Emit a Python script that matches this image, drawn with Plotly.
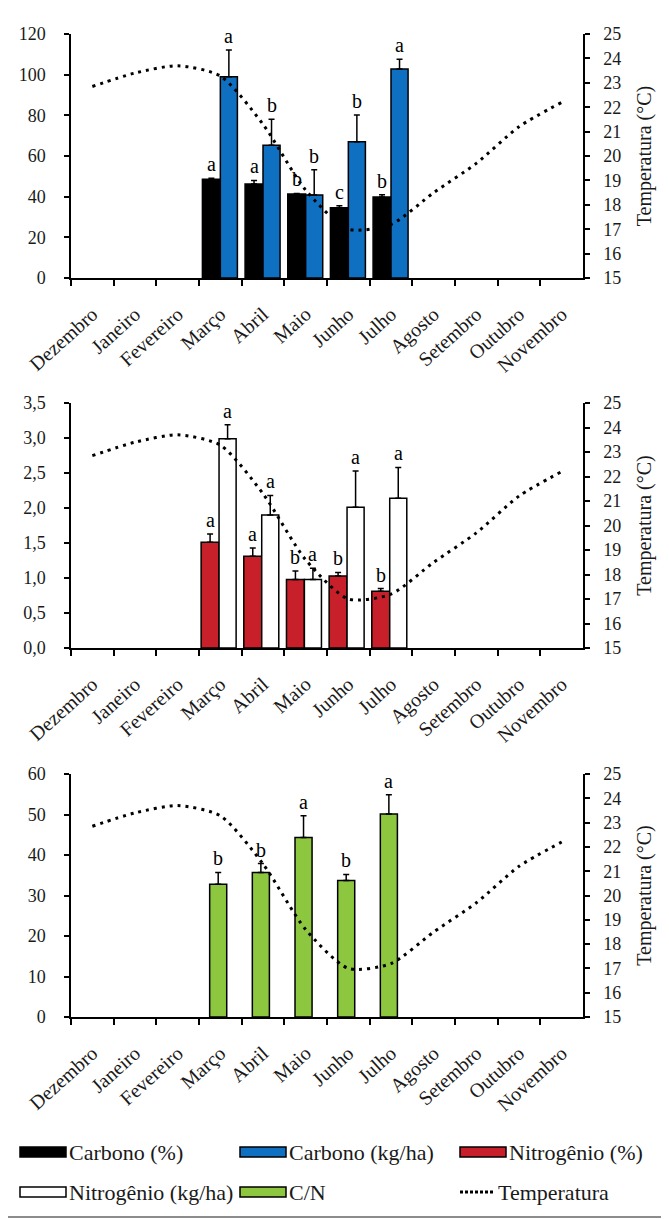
import plotly.graph_objects as go

# The page body adds an 8px margin; the figure is sized to fit the window after it.
OFF = 8
W, H = 669 - OFF, 1219 - OFF
FONT = "Times New Roman"

months = ["Dezembro", "Janeiro", "Fevereiro", "Março", "Abril", "Maio",
          "Junho", "Julho", "Agosto", "Setembro", "Outubro", "Novembro"]
temperatura = [22.85, 23.4, 23.7, 23.28, 21.3, 18.6, 17.0, 17.2, 18.5, 19.7, 21.2, 22.2]

bar_months = ["Março", "Abril", "Maio", "Junho", "Julho"]

carbono_pct = [48.6, 46.2, 41.3, 34.5, 39.8]
carbono_pct_err = [0.5, 1.8, 0.3, 1.0, 1.1]
carbono_pct_let = ["a", "a", "b", "c", "b"]

carbono_kg = [99.0, 65.3, 40.8, 67.0, 102.8]
carbono_kg_err = [13.1, 12.8, 12.4, 13.2, 4.8]
carbono_kg_let = ["a", "b", "b", "b", "a"]

nitro_pct = [1.51, 1.31, 0.98, 1.03, 0.81]
nitro_pct_err = [0.12, 0.12, 0.12, 0.05, 0.04]
nitro_pct_let = ["a", "a", "b", "b", "b"]

nitro_kg = [2.99, 1.90, 0.98, 2.01, 2.14]
nitro_kg_err = [0.20, 0.28, 0.16, 0.52, 0.44]
nitro_kg_let = ["a", "a", "a", "a", "a"]

cn = [32.8, 35.7, 44.3, 33.7, 50.1]
cn_err = [2.9, 2.2, 5.4, 1.5, 4.8]
cn_let = ["b", "b", "a", "b", "a"]

C_BLACK = "#000000"
C_BLUE = "#0F6FC0"
C_RED = "#C8202A"
C_WHITE = "#FFFFFF"
C_GREEN = "#8DC63F"

# plotting areas in window pixels (top, bottom)
panels = [(34, 278), (403, 648), (774, 1017)]
X0, X1 = 71, 583

fig = go.Figure()


def fy(px):
    return 1 - (px - OFF) / H


def fx(px):
    return (px - OFF) / W


def add_bar(k, vals, errs, color, offset, width):
    xa = "x" if k == 0 else f"x{k + 1}"
    ya = f"y{2 * k + 1}" if k else "y"
    fig.add_trace(go.Bar(
        x=bar_months, y=vals, xaxis=xa, yaxis=ya,
        marker=dict(color=color, line=dict(color="black", width=1.5)),
        offset=offset, width=width, showlegend=False,
        error_y=dict(type="data", array=errs, arrayminus=[0] * len(errs),
                     symmetric=False, color="black", thickness=1.5, width=3),
    ))


def add_letters(k, vals, errs, letters, dx):
    xa = "x" if k == 0 else f"x{k + 1}"
    ya = f"y{2 * k + 1}" if k else "y"
    for m, v, e, t in zip(bar_months, vals, errs, letters):
        i = months.index(m)
        fig.add_annotation(x=i + dx, y=v + e, xref=xa, yref=ya, text=t,
                           showarrow=False, yanchor="bottom", yshift=1,
                           font=dict(family=FONT, size=20, color="black"))


def add_temp(k):
    xa = "x" if k == 0 else f"x{k + 1}"
    ya = f"y{2 * k + 2}"
    fig.add_trace(go.Scatter(
        x=months, y=temperatura, xaxis=xa, yaxis=ya, mode="lines",
        line=dict(color="black", width=3, dash="3px,5px", shape="spline", smoothing=0.7),
        showlegend=False, hoverinfo="skip"))


add_bar(0, carbono_pct, carbono_pct_err, C_BLACK, -0.42, 0.42)
add_bar(0, carbono_kg, carbono_kg_err, C_BLUE, 0.0, 0.40)
add_temp(0)
add_letters(0, carbono_pct, carbono_pct_err, carbono_pct_let, -0.21)
add_letters(0, carbono_kg, carbono_kg_err, carbono_kg_let, 0.20)

add_bar(1, nitro_pct, nitro_pct_err, C_RED, -0.45, 0.42)
add_bar(1, nitro_kg, nitro_kg_err, C_WHITE, -0.03, 0.40)
add_temp(1)
add_letters(1, nitro_pct, nitro_pct_err, nitro_pct_let, -0.24)
add_letters(1, nitro_kg, nitro_kg_err, nitro_kg_let, 0.17)

add_bar(2, cn, cn_err, C_GREEN, -0.25, 0.40)
add_temp(2)
add_letters(2, cn, cn_err, cn_let, -0.05)

left_ranges = [([0, 120], 20, None), ([0, 3.5], 0.5, ".1f"), ([0, 60], 10, None)]
TXT = "#1a1a1a"

layout = dict(
    width=W, height=H, margin=dict(l=0, r=0, t=0, b=0, autoexpand=False),
    plot_bgcolor="white", paper_bgcolor="white",
    barmode="overlay", separators=",.", showlegend=False,
    font=dict(family=FONT, color=TXT),
)

for k, (top, bot) in enumerate(panels):
    xname = "xaxis" if k == 0 else f"xaxis{k + 1}"
    yl = "yaxis" if k == 0 else f"yaxis{2 * k + 1}"
    yr = f"yaxis{2 * k + 2}"
    xa = "x" if k == 0 else f"x{k + 1}"
    yl_id = "y" if k == 0 else f"y{2 * k + 1}"
    rng, dt, fmt = left_ranges[k]
    layout[xname] = dict(
        domain=[fx(X0), fx(X1)], anchor=yl_id, type="category",
        categoryorder="array", categoryarray=months, range=[-0.5, 11.5],
        tickson="boundaries", ticks="outside", ticklen=6, tickwidth=1.5,
        tickcolor="black", showline=True, linecolor="black", linewidth=1.5,
        tickangle=-42, tickfont=dict(family=FONT, size=20, color=TXT),
        ticklabelstandoff=15,
        showgrid=False, fixedrange=True, automargin=False,
    )
    yl_d = dict(
        domain=[fy(bot), fy(top)], anchor=xa, range=rng, dtick=dt,
        ticks="outside", ticklen=5, tickwidth=1.5, tickcolor="black",
        showline=True, linecolor="black", linewidth=1.5, showgrid=False,
        zeroline=False, tickfont=dict(family=FONT, size=18, color=TXT),
        ticklabelstandoff=15, automargin=False,
    )
    if fmt:
        yl_d["tickformat"] = fmt
    layout[yl] = yl_d
    layout[yr] = dict(
        overlaying=yl_id, side="right", anchor=xa, range=[15, 25], dtick=1,
        ticks="outside", ticklen=5, tickwidth=1.5, tickcolor="black",
        showline=True, linecolor="black", linewidth=1.5, showgrid=False,
        zeroline=False, tickfont=dict(family=FONT, size=18, color=TXT),
        ticklabelstandoff=10, automargin=False,
        title=dict(text="Temperatura (°C)", font=dict(family=FONT, size=20, color=TXT),
                   standoff=17),
    )

fig.update_layout(**layout)

legend_items = [
    ("Carbono (%)", C_BLACK, 20, 1152, "bar"),
    ("Carbono (kg/ha)", C_BLUE, 240, 1152, "bar"),
    ("Nitrogênio (%)", C_RED, 460, 1152, "bar"),
    ("Nitrogênio (kg/ha)", C_WHITE, 20, 1192, "bar"),
    ("C/N", C_GREEN, 240, 1192, "bar"),
    ("Temperatura", None, 460, 1192, "line"),
]
shapes = []
for name, col, x, y, kind in legend_items:
    if kind == "bar":
        shapes.append(dict(type="rect", xref="paper", yref="paper",
                           x0=fx(x), x1=fx(x + 46), y0=fy(y + 5), y1=fy(y - 5),
                           fillcolor=col, line=dict(color="black", width=1.5)))
        tx = x + 47
    else:
        shapes.append(dict(type="line", xref="paper", yref="paper",
                           x0=fx(x), x1=fx(x + 33), y0=fy(y), y1=fy(y),
                           line=dict(color="black", width=3, dash="3px,2px")))
        tx = x + 36
    fig.add_annotation(x=fx(tx), y=fy(y), xref="paper", yref="paper", text=name,
                       showarrow=False, xanchor="left", yanchor="middle",
                       font=dict(family=FONT, size=22, color=TXT))

shapes.append(dict(type="line", xref="paper", yref="paper", x0=fx(663), x1=fx(663),
                   y0=fy(1217), y1=fy(8), line=dict(color="#8c8c8c", width=2)))
shapes.append(dict(type="line", xref="paper", yref="paper", x0=fx(OFF), x1=fx(663),
                   y0=fy(1217), y1=fy(1217), line=dict(color="#8c8c8c", width=2)))
fig.update_layout(shapes=shapes)

fig.write_html("out.html")
